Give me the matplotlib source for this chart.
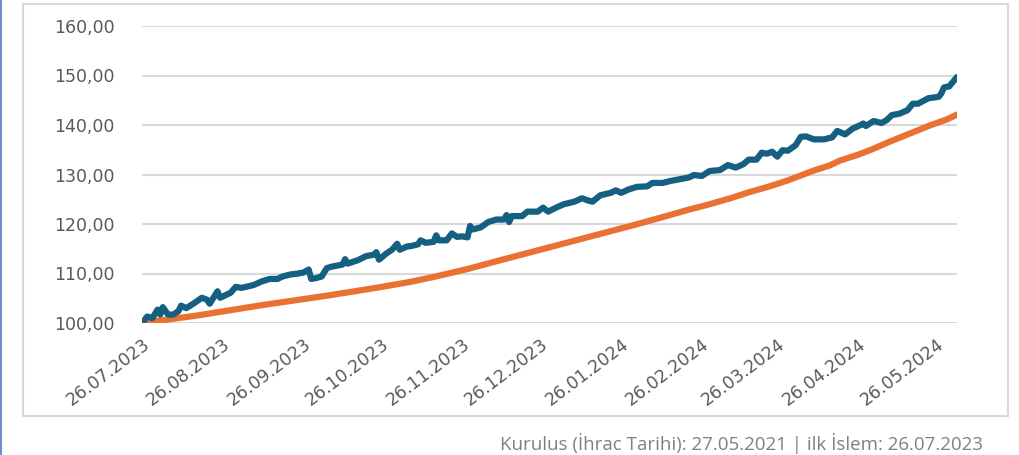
import numpy as np
import pandas as pd
import matplotlib
matplotlib.use("Agg")
import matplotlib.pyplot as plt
from matplotlib.lines import Line2D
from matplotlib.patches import Rectangle
from matplotlib.ticker import FuncFormatter

plt.rcParams["font.family"] = ["DejaVu Sans"]

# data: days since 26.07.2023 and index value
start = pd.Timestamp("2023-07-26")

blue_days = [0, 2, 4, 6, 7, 8, 10, 12, 14, 15, 17, 20, 23, 25, 26, 29, 30, 34, 36, 38,
             40, 43, 46, 49, 52, 54, 57, 60, 62, 64, 65, 67, 69, 71, 73, 77, 78, 79, 83, 86,
             89, 90, 91, 94, 96, 98, 99, 102, 103, 106, 107, 109, 112, 113, 114, 117, 119, 121, 123, 125,
             126, 127, 130, 133, 136, 139, 140, 141, 142, 146, 148, 152, 154, 156, 159, 162, 166, 169, 171, 173,
             176, 180, 182, 184, 187, 190, 194, 196, 200, 203, 207, 210, 212, 215, 218, 222, 225, 228, 231, 233,
             236, 238, 240, 242, 244, 246, 248, 251, 253, 255, 258, 262, 265, 267, 270, 273, 276, 277, 278, 281,
             284, 286, 288, 291, 294, 296, 298, 302, 306, 307, 308, 310, 313]
blue_vals = [100.0, 101.3, 101.0, 102.7, 101.7, 103.2, 101.7, 101.7, 102.4, 103.5, 103.0, 104.0, 105.1, 104.7, 103.9, 106.4, 105.1, 106.1, 107.3, 107.1,
             107.3, 107.7, 108.4, 108.9, 108.9, 109.4, 109.8, 110.0, 110.2, 110.8, 108.9, 109.1, 109.4, 111.1, 111.4, 111.8, 112.9, 112.0, 112.7, 113.5,
             113.8, 114.3, 112.8, 114.1, 114.8, 116.0, 114.8, 115.5, 115.5, 115.9, 116.7, 116.2, 116.4, 117.7, 116.7, 116.7, 118.1, 117.4, 117.5, 117.3,
             119.6, 118.9, 119.3, 120.4, 120.9, 120.9, 121.8, 120.4, 121.6, 121.6, 122.5, 122.5, 123.3, 122.5, 123.3, 124.0, 124.5, 125.2, 124.8, 124.5,
             125.8, 126.3, 126.8, 126.3, 127.0, 127.5, 127.6, 128.3, 128.3, 128.7, 129.1, 129.4, 129.9, 129.7, 130.7, 130.9, 131.9, 131.4, 132.1, 133.0,
             133.0, 134.4, 134.2, 134.6, 133.6, 134.9, 134.8, 135.9, 137.6, 137.7, 137.1, 137.1, 137.5, 138.8, 138.1, 139.3, 140.0, 140.3, 139.8, 140.8,
             140.4, 141.0, 142.0, 142.3, 143.0, 144.3, 144.3, 145.4, 145.7, 146.4, 147.6, 147.8, 149.7]

orange_days = [0, 21, 46, 72, 91, 103, 112, 125, 137, 150, 163, 176, 189, 202, 210, 218,
               226, 233, 241, 248, 254, 258, 264, 268, 275, 280, 287, 295, 303, 309, 313]
orange_vals = [100.0, 101.5, 103.6, 105.6, 107.2, 108.3, 109.3, 110.9, 112.6, 114.4, 116.2, 118.0, 119.8, 121.7, 122.9, 124.0,
               125.2, 126.4, 127.6, 128.8, 130.0, 130.8, 131.8, 132.8, 134.0, 135.0, 136.6, 138.3, 140.0, 141.1, 142.1]

tick_dates = ["26.07.2023", "26.08.2023", "26.09.2023", "26.10.2023", "26.11.2023", "26.12.2023",
              "26.01.2024", "26.02.2024", "26.03.2024", "26.04.2024", "26.05.2024"]
y_ticks = [100, 110, 120, 130, 140, 150, 160]
footer = "Kurulus (İhrac Tarihi): 27.05.2021 | ilk İslem: 26.07.2023"

blue_x = start + pd.to_timedelta(blue_days, unit="D")
orange_x = start + pd.to_timedelta(orange_days, unit="D")
ticks = pd.to_datetime(tick_dates, format="%d.%m.%Y")

W, H = 1019, 455
fig = plt.figure(figsize=(W / 100, H / 100), dpi=100)
fig.patch.set_facecolor("white")

# chart frame and left blue strip
fig.add_artist(Rectangle((23 / W, 1 - 416 / H), (1008 - 23) / W, (416 - 4) / H,
                         transform=fig.transFigure, fill=False, edgecolor="#d9d9d9", lw=1.5))
fig.add_artist(Line2D([1 / W, 1 / W], [0, 1], transform=fig.transFigure, color="#6e8fc6", lw=1.5))

ax = fig.add_axes([142 / W, 1 - 323 / H, (957 - 142) / W, (323 - 26) / H])
ax.plot(orange_x, orange_vals, color="#e97132", lw=4.5, solid_capstyle="round", zorder=3)
ax.plot(blue_x, blue_vals, color="#156082", lw=4.5, solid_capstyle="round", zorder=4)

ax.set_xlim(start, start + pd.Timedelta(days=313))
ax.set_ylim(100, 160)
ax.set_yticks(y_ticks)
ax.yaxis.set_major_formatter(FuncFormatter(lambda v, p: f"{v:.2f}".replace(".", ",")))
ax.set_xticks(ticks)
ax.set_xticklabels(tick_dates)
ax.grid(axis="y", color="#d9d9d9", lw=1.5)
ax.set_axisbelow(True)
for s in ax.spines.values():
    s.set_visible(False)
ax.tick_params(axis="both", length=0, labelcolor="#595959", labelsize=12.5)
ax.tick_params(axis="y", pad=19.5)
ax.tick_params(axis="x", pad=9)
for lab in ax.get_xticklabels():
    lab.set_rotation(37)
    lab.set_ha("right")
    lab.set_va("top")
    lab.set_rotation_mode("anchor")

fig.text(983 / W, 1 - 450 / H, footer, ha="right", va="baseline", color="#808080",
         fontsize=13.5, family=["Open Sans", "DejaVu Sans"])

fig.savefig("out.png", dpi=100)
